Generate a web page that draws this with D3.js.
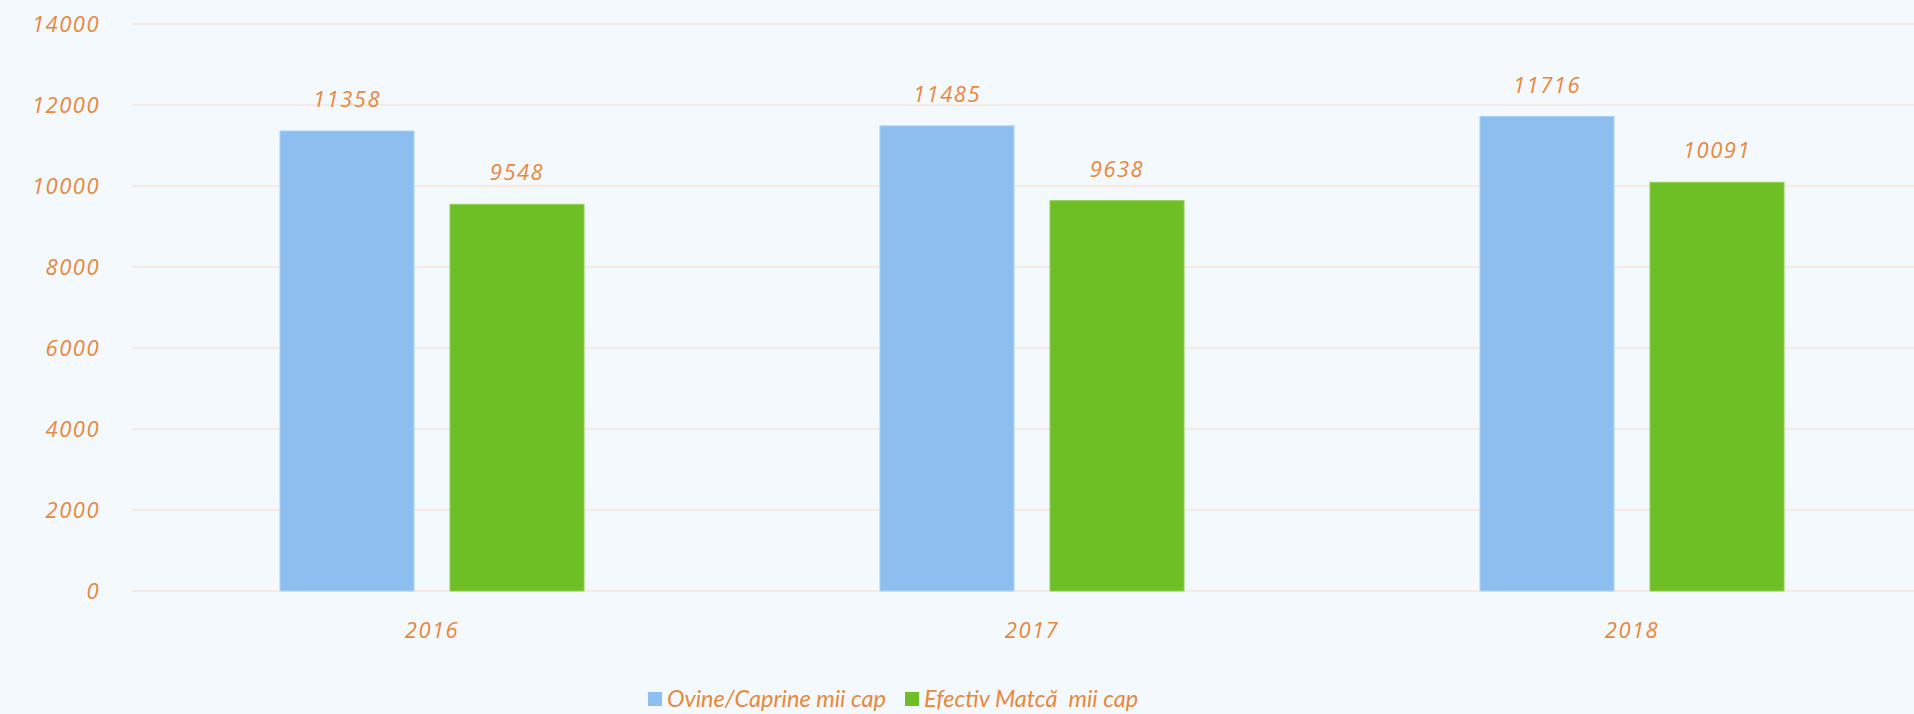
<!DOCTYPE html>
<html><head><meta charset="utf-8">
<script src="https://cdn.jsdelivr.net/npm/d3@7"></script>
<style>
html,body{margin:0;padding:0;background:#F4F9FD;}
svg{display:block;}
text{font-family:"Segoe Print","Comic Sans MS","Open Sans",Lato,sans-serif;font-style:italic;fill:#E8883C;}
</style></head><body>
<script>
const categories = ["2016", "2017", "2018"];
const seriesNames = ["Ovine/Caprine mii cap", "Efectiv Matcă  mii cap"];
const ovine = [11358, 11485, 11716];
const matca = [9548, 9638, 10091];
const yTicks = [0, 2000, 4000, 6000, 8000, 10000, 12000, 14000];
const colors = ["#8CBFF0", "#6EBF26"];

const W = 1914, H = 714;
const svg = d3.select("body").append("svg").attr("width", W).attr("height", H);
svg.append("rect").attr("width", W).attr("height", H).attr("fill", "#F4F9FD");

const x0 = d3.scaleBand().domain(categories).range([132, 1932]).paddingInner(0).paddingOuter(0);
const y = d3.scaleLinear().domain([0, 14000]).range([591, 24]);
const x1 = d3.scaleBand().domain([0, 1]).range([0, 304]).paddingInner(0.212);

// grid
svg.append("g").selectAll("line").data(yTicks).join("line")
  .attr("x1", 132).attr("x2", W).attr("y1", d => y(d)).attr("y2", d => y(d))
  .attr("stroke", "#F8E4D6").attr("stroke-width", 1.5);

const numFont = "'Open Sans', Lato, sans-serif";

// y axis labels
const yAxis = d3.axisLeft(y).tickValues(yTicks).tickSize(0).tickPadding(0).tickFormat(d3.format("d"));
const gy = svg.append("g").attr("transform", "translate(100,0)").call(yAxis);
gy.select(".domain").remove();
gy.selectAll("text").attr("font-size", 22).attr("letter-spacing", 1.5)
  .style("font-family", numFont).style("font-style", "italic").attr("fill", "#E8883C").attr("dy", "0.34em");

const data = categories.map((c, i) => ({cat: c, vals: [ovine[i], matca[i]]}));
const groups = svg.append("g").selectAll("g").data(data).join("g")
  .attr("transform", d => `translate(${x0(d.cat) + (x0.bandwidth() - 304) / 2},0)`);

groups.selectAll("rect").data(d => d.vals.map((v, k) => ({v, k}))).join("rect")
  .attr("x", d => x1(d.k)).attr("width", x1.bandwidth())
  .attr("y", d => y(d.v)).attr("height", d => y(0) - y(d.v))
  .attr("fill", d => colors[d.k])
  .attr("stroke", d => d.k === 0 ? "#A9D0F6" : "#8ED04E").attr("stroke-width", 1);

groups.selectAll("text.lbl").data(d => d.vals.map((v, k) => ({v, k}))).join("text")
  .attr("class", "lbl")
  .attr("x", d => x1(d.k) + x1.bandwidth() / 2).attr("y", d => y(d.v) - 24)
  .attr("text-anchor", "middle").attr("font-size", 22).attr("letter-spacing", 1.5)
  .style("font-family", numFont)
  .text(d => d.v);

// x axis labels
const xAxis = d3.axisBottom(x0).tickSize(0).tickPadding(0);
const gx = svg.append("g").attr("transform", "translate(0,622)").call(xAxis);
gx.select(".domain").remove();
gx.selectAll("text").attr("font-size", 22).attr("letter-spacing", 1.5)
  .style("font-family", numFont).style("font-style", "italic").attr("fill", "#E8883C").attr("dy", "0.71em");

// legend
const legendX = [648, 905];
const lg = svg.append("g").selectAll("g").data(seriesNames).join("g")
  .attr("transform", (d, i) => `translate(${legendX[i]},692)`);
lg.append("rect").attr("width", 14).attr("height", 14).attr("fill", (d, i) => colors[i]);
lg.append("text").attr("x", 19).attr("y", 7).attr("dy", "0.35em")
  .attr("font-size", 23.5).style("font-family", "Lato, 'Open Sans', sans-serif")
  .style("white-space", "pre").attr("xml:space", "preserve")
  .text(d => d);
</script>
</body></html>
